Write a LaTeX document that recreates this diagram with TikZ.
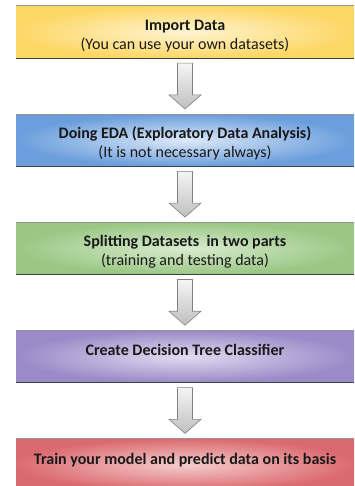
\documentclass[tikz,border=0pt]{standalone}
\usepackage{fontspec}
\setmainfont{Carlito}
\usetikzlibrary{positioning,calc}
\newcommand{\boxWidth}[0]{338pt}
\newcommand{\boxHeight}[0]{52pt}
\newcommand{\boxGap}[0]{55.75pt}
\newcommand{\shaftHalf}[0]{7.5pt}
\newcommand{\headHalf}[0]{16pt}
\newcommand{\stepTitle}[1]{\rule{0pt}{18pt}\textbf{#1}}
\definecolor{yellowEdge}{HTML}{FDD766}
\definecolor{yellowCore}{HTML}{FEF4D2}
\definecolor{blueEdge}{HTML}{6B9EDC}
\definecolor{blueCore}{HTML}{DDE9F8}
\definecolor{greenEdge}{HTML}{9AC784}
\definecolor{greenCore}{HTML}{D9EBCF}
\definecolor{purpleEdge}{HTML}{9A8AC8}
\definecolor{purpleCore}{HTML}{E2DBEF}
\definecolor{redEdge}{HTML}{DB6A70}
\definecolor{redCore}{HTML}{F5CDCD}
\newcommand{\stepArrow}[2]{%
  \draw[step arrow] let \p1=(#1.south), \p2=(#2.north) in
    (\x1-\shaftHalf,\y1-5pt) -- (\x1+\shaftHalf,\y1-5pt)
    -- (\x1+\shaftHalf,\y2+19pt) -- (\x1+\headHalf,\y2+19pt)
    -- (\x1,\y2+5pt) -- (\x1-\headHalf,\y2+19pt)
    -- (\x1-\shaftHalf,\y2+19pt) -- cycle;}

\begin{document}
\begin{tikzpicture}[x=1pt, y=1pt, node distance=\boxGap]
  \tikzset{step box/.style={minimum width=\boxWidth, minimum height=\boxHeight,
      inner sep=0pt, align=center, text=black!90,
      font=\fontsize{16}{19}\selectfont},
    step arrow/.style={draw=gray, line width=0.6pt, top color=gray!8,
      bottom color=gray!50},
    top edge/.style={draw=gray!85, line width=0.8pt},
    bottom edge/.style={draw=black!75, line width=1.3pt}}
  \useasboundingbox (0,0) rectangle (354,-486);
  \node[step box, inner color=yellowCore, outer color=yellowEdge] (step-1) at (185,-32)
    {\stepTitle{Import Data}\\(You can use your own datasets)};
  \node[step box, inner color=blueCore, outer color=blueEdge, below=of step-1] (step-2)
    {\stepTitle{Doing EDA (Exploratory Data Analysis)}\\(It is not necessary always)};
  \node[step box, inner color=greenCore, outer color=greenEdge, below=of step-2] (step-3)
    {\stepTitle{Splitting Datasets\ \ in two parts}\\(training and testing data)};
  \node[step box, inner color=purpleCore, outer color=purpleEdge, below=of step-3] (step-4)
    {\stepTitle{Create Decision Tree Classifier}\\\mbox{}};
  \node[step box, inner color=redCore, outer color=redEdge, below=of step-4] (step-5)
    {\stepTitle{Train your model and predict data on its basis}\\\mbox{}};
  \foreach \i in {1,...,5} {
    \draw[top edge] (step-\i.north west) -- (step-\i.north east);
    \draw[bottom edge] (step-\i.south west) -- (step-\i.south east);
  }
  \stepArrow{step-1}{step-2}
  \stepArrow{step-2}{step-3}
  \stepArrow{step-3}{step-4}
  \stepArrow{step-4}{step-5}
\end{tikzpicture}
\end{document}
